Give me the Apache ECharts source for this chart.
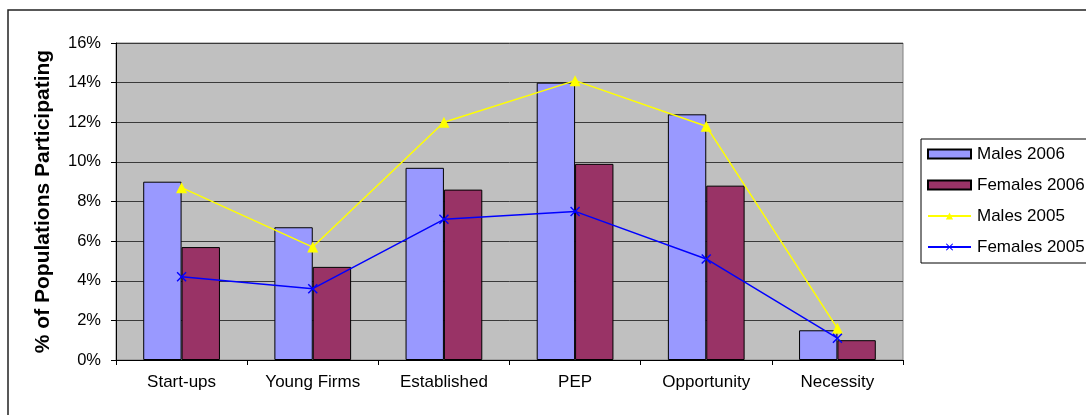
<!DOCTYPE html>
<html>
<head>
<meta charset="utf-8">
<title>Entrepreneurial participation by gender</title>
<script src="https://cdn.jsdelivr.net/npm/echarts@6/dist/echarts.min.js"></script>
<style>
  html, body { margin: 0; padding: 0; background: #ffffff; }
  #chart { width: 1086px; height: 415px; }
</style>
</head>
<body>
<div id="chart"></div>
<script>
// Activity categories along the x axis
const categories = ['Start-ups', 'Young Firms', 'Established', 'PEP', 'Opportunity', 'Necessity'];

// Participation rates, percent of population
const males2006   = [9.0, 6.7, 9.7, 14.0, 12.4, 1.5];
const females2006 = [5.7, 4.7, 8.6, 9.9, 8.8, 1.0];
const males2005   = [8.7, 5.7, 12.0, 14.1, 11.8, 1.6];
const females2005 = [4.2, 3.6, 7.1, 7.5, 5.1, 1.1];

// Value axis range
const yMin = 0, yMax = 16, yStep = 2;

const FONT = 'Liberation Sans, Arial, sans-serif';
// filled "x" marker outline
const crossSymbol = 'path://M0,1L1,0L5,4L9,0L10,1L6,5L10,9L9,10L5,6L1,10L0,9L4,5Z';

const chart = echarts.init(document.getElementById('chart'), null, { renderer: 'canvas' });

chart.setOption({
  animation: false,
  backgroundColor: '#ffffff',
  textStyle: { fontFamily: FONT },
  graphic: [{
    type: 'rect',
    shape: { x: 8, y: 10, width: 1200, height: 500 },
    style: { fill: null, stroke: '#222222', lineWidth: 1.5 },
    silent: true
  }],
  grid: {
    left: 116, right: 183, top: 43, bottom: 55,
    show: true,
    backgroundColor: '#C0C0C0',
    borderColor: '#808080',
    borderWidth: 1
  },
  legend: {
    orient: 'vertical',
    left: 921, top: 139,
    padding: [6.5, 30, 7.5, 6],
    itemGap: 14,
    itemWidth: 43,
    itemHeight: 9,
    borderColor: '#000000',
    borderWidth: 1,
    backgroundColor: '#ffffff',
    textStyle: { fontFamily: FONT, fontSize: 17, color: '#000000', lineHeight: 17, padding: [0, 0, 0, 1] },
    data: [
      { name: 'Males 2006', icon: 'rect' },
      { name: 'Females 2006', icon: 'rect' },
      { name: 'Males 2005' },
      { name: 'Females 2005' }
    ]
  },
  xAxis: {
    type: 'category',
    data: categories,
    axisLine: { lineStyle: { color: '#000000', width: 1 } },
    axisTick: { show: true, length: 5, lineStyle: { color: '#000000' } },
    axisLabel: { fontFamily: FONT, fontSize: 17, color: '#000000', margin: 14 },
    splitLine: { show: false }
  },
  yAxis: {
    type: 'value',
    min: yMin, max: yMax, interval: yStep,
    name: '% of Populations Participating',
    nameLocation: 'middle',
    nameGap: 62,
    nameRotate: 90,
    nameTextStyle: { fontFamily: FONT, fontSize: 21, fontWeight: 'bold', color: '#000000' },
    axisLine: { show: true, lineStyle: { color: '#000000', width: 1 } },
    axisTick: { show: true, length: 5, lineStyle: { color: '#000000' } },
    axisLabel: { fontFamily: FONT, fontSize: 16.5, color: '#000000', margin: 15, formatter: '{value}%' },
    splitLine: { show: true, lineStyle: { color: '#3a3a3a', width: 1 } }
  },
  series: [
    {
      name: 'Males 2006', type: 'bar', data: males2006,
      barGap: '0%', barCategoryGap: '41.5%',
      itemStyle: { color: '#9999FF', borderColor: '#000000', borderWidth: 1 }
    },
    {
      name: 'Females 2006', type: 'bar', data: females2006,
      barGap: '0%', barCategoryGap: '41.5%',
      itemStyle: { color: '#993366', borderColor: '#000000', borderWidth: 1 }
    },
    {
      name: 'Males 2005', type: 'line', data: males2005,
      symbol: 'triangle', symbolSize: 11,
      lineStyle: { color: '#FFFF00', width: 1.5 },
      itemStyle: { color: '#FFFF00' },
      z: 5
    },
    {
      name: 'Females 2005', type: 'line', data: females2005,
      symbol: crossSymbol, symbolSize: 10,
      lineStyle: { color: '#0000FF', width: 1.5 },
      itemStyle: { color: '#0000FF' },
      z: 5
    }
  ]
});
</script>
</body>
</html>
